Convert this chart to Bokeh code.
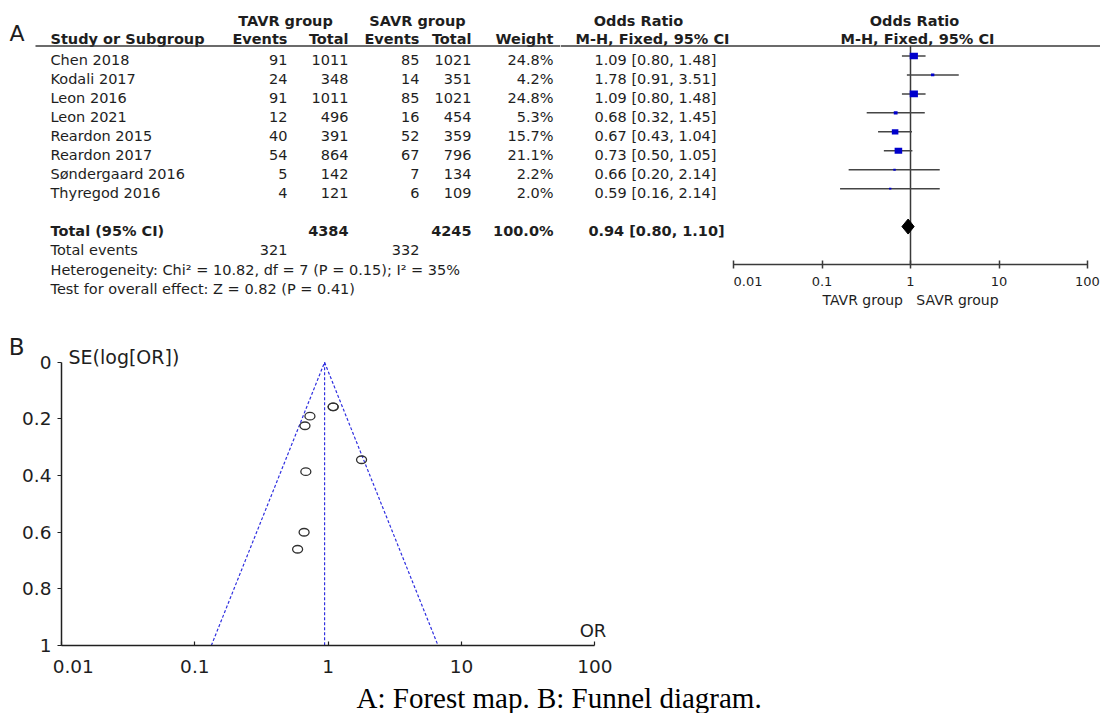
import math
from bokeh.plotting import figure
from bokeh.layouts import column, row
from bokeh.models import Range1d, FixedTicker, Span, LinearAxis, LogAxis, Title
from bokeh.core.properties import value
from bokeh.embed import file_html
from bokeh.resources import INLINE

# ---------------- data ----------------
studies = ["Chen 2018", "Kodali 2017", "Leon 2016", "Leon 2021", "Reardon 2015",
           "Reardon 2017", "Søndergaard 2016", "Thyregod 2016"]
tavr_events = [91, 24, 91, 12, 40, 54, 5, 4]
tavr_total = [1011, 348, 1011, 496, 391, 864, 142, 121]
savr_events = [85, 14, 85, 16, 52, 67, 7, 6]
savr_total = [1021, 351, 1021, 454, 359, 796, 134, 109]
weights = [24.8, 4.2, 24.8, 5.3, 15.7, 21.1, 2.2, 2.0]
odds_ratio = [1.09, 1.78, 1.09, 0.68, 0.67, 0.73, 0.66, 0.59]
ci_lower = [0.80, 0.91, 0.80, 0.32, 0.43, 0.50, 0.20, 0.16]
ci_upper = [1.48, 3.51, 1.48, 1.45, 1.04, 1.05, 2.14, 2.14]
se_log_or = [0.157, 0.344, 0.157, 0.386, 0.224, 0.190, 0.600, 0.660]

total_tavr, total_savr = 4384, 4245
events_tavr, events_savr = 321, 332
total_weight = "100.0%"
total_or, total_lo, total_hi = 0.94, 0.80, 1.10
heterogeneity = "Heterogeneity: Chi\u00b2 = 10.82, df = 7 (P = 0.15); I\u00b2 = 35%"
overall_effect = "Test for overall effect: Z = 0.82 (P = 0.41)"

forest_ticks = [0.01, 0.1, 1, 10, 100]
forest_tick_labels = ["0.01", "0.1", "1", "10", "100"]
forest_axis_label = "TAVR group\u00a0\u00a0\u00a0SAVR group"
funnel_x_ticks = [0.01, 0.1, 1, 10, 100]
funnel_x_labels = ["0.01", "0.1", "1", "10", "100"]
funnel_y_ticks = [0, 0.2, 0.4, 0.6, 0.8, 1]
funnel_y_labels = ["0", "0.2", "0.4", "0.6", "0.8", "1"]
funnel_limit_x = [0.133, 0.94, 6.67]
funnel_limit_y = [1, 0, 1]
caption = "A: Forest map. B: Funnel diagram."

# ---------------- style / layout ----------------
FONT = "DejaVu Sans"
SERIF = "Liberation Serif"
TXT = "#1e1e1e"
LINE = "#3a3a3a"
FS = "14.5px"
NB = "\u00a0"

W = 1100
H = 713
TOP_H = 310
FUN_H = H - TOP_H
TBL_W = 560
FOR_W = W - TBL_W


def txt(fig, x, y, texts, align="left", bold=False, size=FS, font=FONT, color=TXT,
        ymap=None, **kw):
    """y is the wanted baseline in page pixels (corrected for the svg baseline shift)."""
    s = float(size.replace("px", ""))
    ys = y if isinstance(y, list) else [y]
    xs = x if isinstance(x, list) else [x]
    ys = [v - 0.38 * s for v in ys]
    if ymap is not None:
        ys = [ymap(v) for v in ys]
    fig.text(x=xs, y=ys, text=texts, text_align=align, text_baseline="alphabetic",
             text_font=value(font), text_font_size=size,
             text_font_style="bold" if bold else "normal", text_color=color, **kw)


def bare(fig):
    fig.grid.visible = False
    fig.outline_line_color = None


# ---------------- table (left part of A) ----------------
tbl = figure(width=TBL_W, height=TOP_H, x_range=Range1d(0, TBL_W),
             y_range=Range1d(TOP_H, 0), output_backend="svg",
             toolbar_location=None, min_border=0, frame_align=False,
             x_axis_location=None, y_axis_location=None)
bare(tbl)

n = len(studies)
base = [65 + 19.05 * i for i in range(n)]
y_total = 65 + 19.05 * 9
y_events = 65 + 19.05 * 10
y_het = 65 + 19.05 * 11
y_test = 65 + 19.05 * 12

txt(tbl, 9, 41, ["A"], size="22px")
txt(tbl, [285, 417], [26, 26], ["TAVR group", "SAVR group"], align="center", bold=True)
txt(tbl, 50, 44, ["Study or Subgroup"], bold=True)
txt(tbl, [287, 348, 419, 471, 553], [44] * 5,
    ["Events", "Total", "Events", "Total", "Weight"], align="right", bold=True)
tbl.segment(x0=[35], y0=[45.5], x1=[TBL_W], y1=[45.5], line_color=LINE, line_width=1.5)

txt(tbl, [50] * n, base, studies)
txt(tbl, [287] * n, base, [str(v) for v in tavr_events], align="right")
txt(tbl, [348] * n, base, [str(v) for v in tavr_total], align="right")
txt(tbl, [419] * n, base, [str(v) for v in savr_events], align="right")
txt(tbl, [471] * n, base, [str(v) for v in savr_total], align="right")
txt(tbl, [553] * n, base, [f"{w:.1f}%" for w in weights], align="right")

txt(tbl, 50, y_total, ["Total (95% CI)"], bold=True)
txt(tbl, [348, 471, 553], [y_total] * 3, [str(total_tavr), str(total_savr), total_weight],
    align="right", bold=True)
txt(tbl, 50, y_events, ["Total events"])
txt(tbl, [287, 419], [y_events] * 2, [str(events_tavr), str(events_savr)], align="right")
txt(tbl, 50, y_het, [heterogeneity])
txt(tbl, 50, y_test, [overall_effect])

# ---------------- forest plot (right part of A) ----------------
PXD_F = 88.5          # pixels per decade
X001_F = 733          # page x of OR = 0.01
AXIS_Y = 264


def fx(px):
    return 10 ** (-2 + (px - X001_F) / PXD_F)


forest = figure(width=FOR_W, height=TOP_H, x_axis_type="log",
                x_range=Range1d(fx(TBL_W), fx(W)),
                y_range=Range1d(AXIS_Y, 0), output_backend="svg",
                toolbar_location=None, min_border_left=0, min_border_right=0,
                min_border_top=0, min_border_bottom=TOP_H - AXIS_Y,
                frame_align=False, y_axis_location=None)
bare(forest)

ax = forest.xaxis[0]
ax.ticker = FixedTicker(ticks=forest_ticks)
ax.bounds = (forest_ticks[0], forest_ticks[-1])
ov = {t: l for t, l in zip(forest_ticks, forest_tick_labels)}
ov[forest_ticks[0]] = NB * 7 + forest_tick_labels[0]
ax.major_label_overrides = ov
ax.minor_tick_line_color = None
ax.major_tick_in = 4
ax.major_tick_out = 4
ax.axis_line_color = LINE
ax.axis_line_width = 1.5
ax.major_tick_line_color = LINE
ax.major_tick_line_width = 1.5
ax.major_label_text_font = FONT
ax.major_label_text_font_size = "13px"
ax.major_label_text_color = TXT
ax.major_label_standoff = 5

lab_ax = LogAxis(ticker=FixedTicker(ticks=[1]), major_label_overrides={1: forest_axis_label},
                 axis_line_color=None, major_tick_line_color=None,
                 minor_tick_line_color=None, major_tick_in=0, major_tick_out=0,
                 major_label_standoff=0, major_label_text_font=FONT,
                 major_label_text_font_size="14px", major_label_text_color=TXT)
forest.add_layout(lab_ax, "below")

forest.add_layout(Span(location=45.5, dimension="width", line_color=LINE, line_width=1.5))
forest.segment(x0=[1], y0=[45.5], x1=[1], y1=[AXIS_Y], line_color=LINE, line_width=1.5)

fy = [55.5 + 18.95 * i for i in range(n)]
forest.segment(x0=ci_lower, y0=fy, x1=ci_upper, y1=fy, line_color="#454545", line_width=1.5)
forest.rect(x=odds_ratio, y=fy,
            width=[1.65 * math.sqrt(w) for w in weights],
            height=[1.35 * math.sqrt(w) for w in weights],
            width_units="screen", height_units="screen",
            fill_color="#0000CC", line_color=None)
ty = 55.5 + 18.95 * 9
forest.patch(x=[total_lo, total_or, total_hi, total_or], y=[ty, ty - 7.5, ty, ty + 7.5],
             fill_color="black", line_color="black")

txt(forest, [fx(638), fx(914)], [26, 26], ["Odds Ratio", "Odds Ratio"], align="center", bold=True)
txt(forest, [fx(652), fx(917)], [44, 44], ["M-H, Fixed, 95% CI", "M-H, Fixed, 95% CI"],
    align="center", bold=True)
txt(forest, [fx(655)] * n, base,
    [f"{o:.2f} [{l:.2f}, {u:.2f}]" for o, l, u in zip(odds_ratio, ci_lower, ci_upper)],
    align="center")
txt(forest, [fx(656)], [y_total], [f"{total_or:.2f} [{total_lo:.2f}, {total_hi:.2f}]"],
    align="center", bold=True)

# ---------------- funnel plot (B) ----------------
PXD = 133.33
X0_PX = 61          # page x of OR = 0.01
Y0_PX = 362         # page y of SE = 0
PX_SE = 284
FTOP = TOP_H


def se_at(py):
    return (py - Y0_PX) / PX_SE


funnel = figure(width=W, height=FUN_H, x_axis_type="log",
                x_range=Range1d(0.01, 10 ** (-2 + (W - X0_PX) / PXD)),
                y_range=Range1d(1, se_at(FTOP)), output_backend="svg",
                toolbar_location=None, frame_align=False,
                min_border_left=X0_PX, min_border_right=0, min_border_top=0,
                min_border_bottom=H - (Y0_PX + PX_SE))
bare(funnel)

xa = funnel.xaxis[0]
xa.ticker = FixedTicker(ticks=funnel_x_ticks)
xa.bounds = (funnel_x_ticks[0], funnel_x_ticks[-1])
xo = {t: l for t, l in zip(funnel_x_ticks, funnel_x_labels)}
xo[funnel_x_ticks[0]] = NB * 4 + funnel_x_labels[0]
xa.major_label_overrides = xo
xa.major_tick_in = 4
xa.major_tick_out = 0
xa.major_label_standoff = 10

ya = funnel.yaxis[0]
ya.ticker = FixedTicker(ticks=funnel_y_ticks)
ya.bounds = (funnel_y_ticks[0], funnel_y_ticks[-1])
ya.major_label_overrides = {t: l for t, l in zip(funnel_y_ticks, funnel_y_labels)}
ya.major_tick_in = 0
ya.major_tick_out = 4
ya.major_label_standoff = 6

for a in (xa, ya):
    a.minor_tick_line_color = None
    a.axis_line_color = "#202020"
    a.axis_line_width = 1.5
    a.major_tick_line_color = "#202020"
    a.major_tick_line_width = 1.2
    a.major_label_text_font = FONT
    a.major_label_text_font_size = "18.5px"
    a.major_label_text_color = TXT

b_tick = se_at(346.5)
bax = LinearAxis(ticker=FixedTicker(ticks=[b_tick]), major_label_overrides={b_tick: "B"},
                 axis_line_color=None, major_tick_line_color=None,
                 minor_tick_line_color=None, major_tick_out=0, major_tick_in=0,
                 major_label_standoff=-5, major_label_text_font=FONT,
                 major_label_text_font_size="23px", major_label_text_color=TXT)
funnel.add_layout(bax, "left")

BLUE = "#2f2fe0"
funnel.line(funnel_limit_x, funnel_limit_y, line_color=BLUE, line_dash="3 2", line_width=1.2)
funnel.line([total_or, total_or], [0, 1], line_color=BLUE, line_dash="3 2", line_width=1.2)
funnel.ellipse(x=odds_ratio, y=se_log_or, width=10, height=7.5,
               width_units="screen", height_units="screen",
               fill_color=None, line_color="#303030", line_width=1.3)

txt(funnel, [funnel_x_ticks[0]], [364], ["SE(log[OR])"], size="19px", x_offset=7, ymap=se_at)
txt(funnel, [funnel_x_ticks[-1]], [638], ["OR"], align="right", size="18px",
    x_offset=11.5, ymap=se_at)

# caption below the funnel axis
funnel.add_layout(Title(text=caption, align="left", offset=295, standoff=0,
                        text_font=SERIF, text_font_size="29px", text_font_style="normal",
                        text_color="black"), "below")

layout = column(row(tbl, forest), funnel)
open("out.html", "w").write(file_html(layout, INLINE))
